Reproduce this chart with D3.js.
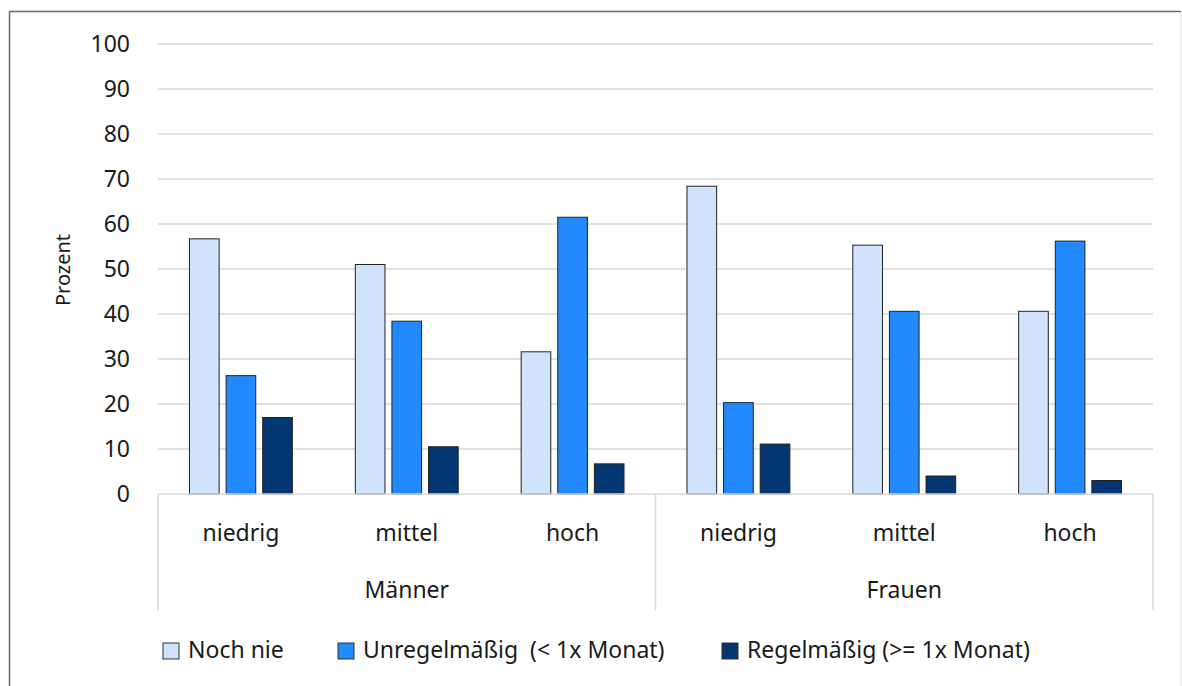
<!DOCTYPE html>
<html>
<head>
<meta charset="utf-8">
<script src="https://cdn.jsdelivr.net/npm/d3@7"></script>
<style>
  body { margin: 0; background: #fff; }
  text { font-family: "Noto Sans", sans-serif; fill: #1a1a1a; }
</style>
</head>
<body>
<div id="vis"></div>
<script>

var groups = ["Männer", "Frauen"];
var levels = ["niedrig", "mittel", "hoch"];
var seriesNames = ["Noch nie", "Unregelmäßig  (< 1x Monat)", "Regelmäßig (>= 1x Monat)"];
// values per group/level, order: niedrig, mittel, hoch
var nochNie = [56.7, 51.0, 31.6, 68.4, 55.3, 40.6];
var unregel = [26.3, 38.4, 61.5, 20.3, 40.6, 56.2];
var regel = [17.0, 10.5, 6.7, 11.1, 4.0, 3.0];
var yTicks = [0, 10, 20, 30, 40, 50, 60, 70, 80, 90, 100];

var colors = ['#cfe3fc', '#2389fe', '#013671'];

var width = 1182, height = 686;
var plotLeft = 158, plotRight = 1153, plotTop = 44, plotBottom = 494;
var fontSize = '23px';

var svg = d3.select('#vis').append('svg')
  .attr('width', width)
  .attr('height', height);

// outer frame
svg.append('line').attr('x1', 9.5).attr('y1', 11.5).attr('x2', 1181).attr('y2', 11.5)
  .attr('stroke', '#666').attr('stroke-width', 1.5);
svg.append('line').attr('x1', 9.5).attr('y1', 11.5).attr('x2', 9.5).attr('y2', 686)
  .attr('stroke', '#666').attr('stroke-width', 1.5);
svg.append('line').attr('x1', 1181).attr('y1', 12).attr('x2', 1181).attr('y2', 686)
  .attr('stroke', '#e3e3e3').attr('stroke-width', 1);

var cats = [];
groups.forEach(function (g) {
  levels.forEach(function (l) { cats.push(g + '|' + l); });
});

var x0 = d3.scaleBand().domain(cats).range([plotLeft, plotRight]);
var xg = d3.scaleBand().domain(groups).range([plotLeft, plotRight]);
var x1 = d3.scaleBand().domain(seriesNames).range([0, x0.bandwidth()]).paddingInner(0.19).paddingOuter(0.86);
var y = d3.scaleLinear().domain([0, 100]).range([plotBottom, plotTop]);

// gridlines
svg.append('g')
  .selectAll('line')
  .data(yTicks.slice(1))
  .enter().append('line')
  .attr('x1', plotLeft).attr('x2', plotRight)
  .attr('y1', function (d) { return y(d); })
  .attr('y2', function (d) { return y(d); })
  .attr('stroke', '#d9d9d9')
  .attr('stroke-width', 1.3);

// y axis labels
var yAxis = d3.axisLeft(y).tickValues(yTicks).tickSize(0).tickPadding(28);
var gy = svg.append('g').attr('transform', 'translate(' + plotLeft + ',0)').call(yAxis);
gy.select('.domain').remove();
gy.selectAll('text')
  .style('font-family', '"Noto Sans", sans-serif')
  .style('font-size', fontSize)
  .attr('fill', '#1a1a1a');

svg.append('text')
  .attr('transform', 'translate(70,270) rotate(-90)')
  .attr('text-anchor', 'middle')
  .style('font-size', '20px')
  .text('Prozent');

// bars
var table = cats.map(function (c, i) {
  return { cat: c, values: [nochNie[i], unregel[i], regel[i]] };
});

var catG = svg.selectAll('.cat')
  .data(table)
  .enter().append('g')
  .attr('class', 'cat')
  .attr('transform', function (d) { return 'translate(' + x0(d.cat) + ',0)'; });

catG.selectAll('rect')
  .data(function (d) {
    return d.values.map(function (v, i) { return { name: seriesNames[i], value: v, i: i }; });
  })
  .enter().append('rect')
  .attr('x', function (d) { return x1(d.name); })
  .attr('y', function (d) { return y(d.value); })
  .attr('width', x1.bandwidth())
  .attr('height', function (d) { return plotBottom - y(d.value); })
  .attr('fill', function (d) { return colors[d.i]; })
  .attr('stroke', '#222')
  .attr('stroke-width', 1);

// category axis
var axisBottom = 610;
svg.append('line')
  .attr('x1', plotLeft).attr('x2', plotRight)
  .attr('y1', plotBottom).attr('y2', plotBottom)
  .attr('stroke', '#d9d9d9').attr('stroke-width', 1.5);

var seps = [plotLeft].concat(groups.map(function (g) { return xg(g) + xg.bandwidth(); }));
svg.selectAll('.sep')
  .data(seps)
  .enter().append('line')
  .attr('class', 'sep')
  .attr('x1', function (d) { return d; }).attr('x2', function (d) { return d; })
  .attr('y1', plotBottom).attr('y2', axisBottom)
  .attr('stroke', '#d9d9d9').attr('stroke-width', 1.5);

svg.selectAll('.lvl')
  .data(cats)
  .enter().append('text')
  .attr('class', 'lvl')
  .attr('x', function (d) { return x0(d) + x0.bandwidth() / 2; })
  .attr('y', 541)
  .attr('text-anchor', 'middle')
  .style('font-size', fontSize)
  .text(function (d) { return d.split('|')[1]; });

svg.selectAll('.grp')
  .data(groups)
  .enter().append('text')
  .attr('class', 'grp')
  .attr('x', function (d) { return xg(d) + xg.bandwidth() / 2; })
  .attr('y', 598)
  .attr('text-anchor', 'middle')
  .style('font-size', fontSize)
  .text(function (d) { return d; });

// legend
var legendX = [163, 338, 722];
var leg = svg.selectAll('.leg')
  .data(seriesNames)
  .enter().append('g')
  .attr('class', 'leg')
  .attr('transform', function (d, i) { return 'translate(' + legendX[i] + ',643)'; });

leg.append('rect')
  .attr('width', 16).attr('height', 16)
  .attr('fill', function (d, i) { return colors[i]; })
  .attr('stroke', '#333').attr('stroke-width', 1);

leg.append('text')
  .attr('x', 25)
  .attr('y', 15)
  .style('font-size', fontSize)
  .style('white-space', 'pre')
  .attr('xml:space', 'preserve')
  .text(function (d) { return d; });

</script>
</body>
</html>
